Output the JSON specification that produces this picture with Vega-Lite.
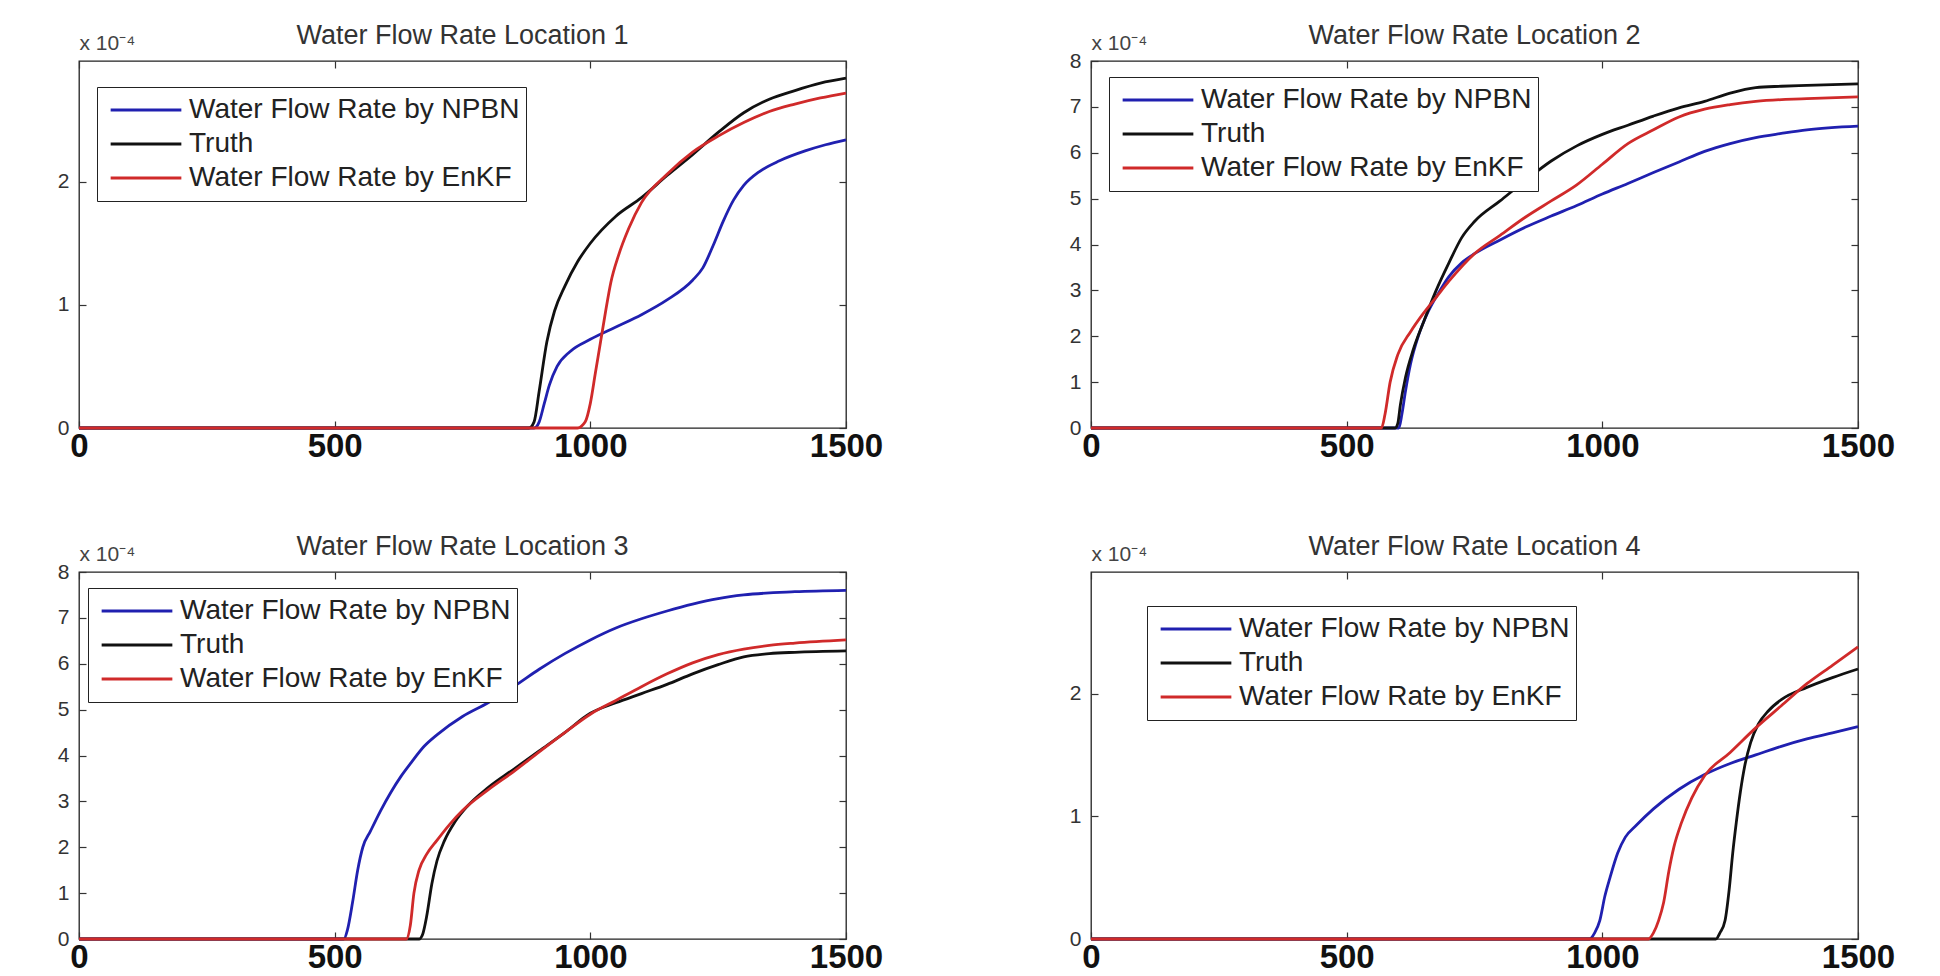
{
  "$schema": "https://vega.github.io/schema/vega-lite/v6.json",
  "background": "white",
  "padding": {"left": 56, "top": 21, "right": 0, "bottom": 0},
  "datasets": {
    "flow": [
      {"loc":1,"s":"Water Flow Rate by NPBN","t":0,"q":0},{"loc":1,"s":"Water Flow Rate by NPBN","t":890,"q":0},{"loc":1,"s":"Water Flow Rate by NPBN","t":900,"q":0.05},{"loc":1,"s":"Water Flow Rate by NPBN","t":910,"q":0.2},{"loc":1,"s":"Water Flow Rate by NPBN","t":920,"q":0.35},{"loc":1,"s":"Water Flow Rate by NPBN","t":935,"q":0.5},{"loc":1,"s":"Water Flow Rate by NPBN","t":960,"q":0.62},{"loc":1,"s":"Water Flow Rate by NPBN","t":1000,"q":0.72},{"loc":1,"s":"Water Flow Rate by NPBN","t":1050,"q":0.82},{"loc":1,"s":"Water Flow Rate by NPBN","t":1100,"q":0.92},{"loc":1,"s":"Water Flow Rate by NPBN","t":1150,"q":1.04},{"loc":1,"s":"Water Flow Rate by NPBN","t":1200,"q":1.2},{"loc":1,"s":"Water Flow Rate by NPBN","t":1220,"q":1.3},{"loc":1,"s":"Water Flow Rate by NPBN","t":1240,"q":1.48},{"loc":1,"s":"Water Flow Rate by NPBN","t":1260,"q":1.68},{"loc":1,"s":"Water Flow Rate by NPBN","t":1280,"q":1.85},{"loc":1,"s":"Water Flow Rate by NPBN","t":1300,"q":1.97},{"loc":1,"s":"Water Flow Rate by NPBN","t":1330,"q":2.08},{"loc":1,"s":"Water Flow Rate by NPBN","t":1370,"q":2.17},{"loc":1,"s":"Water Flow Rate by NPBN","t":1420,"q":2.25},{"loc":1,"s":"Water Flow Rate by NPBN","t":1460,"q":2.3},{"loc":1,"s":"Water Flow Rate by NPBN","t":1500,"q":2.34},
      {"loc":1,"s":"Truth","t":0,"q":0},{"loc":1,"s":"Truth","t":880,"q":0},{"loc":1,"s":"Truth","t":890,"q":0.05},{"loc":1,"s":"Truth","t":900,"q":0.3},{"loc":1,"s":"Truth","t":915,"q":0.7},{"loc":1,"s":"Truth","t":930,"q":0.95},{"loc":1,"s":"Truth","t":950,"q":1.15},{"loc":1,"s":"Truth","t":975,"q":1.35},{"loc":1,"s":"Truth","t":1000,"q":1.5},{"loc":1,"s":"Truth","t":1050,"q":1.72},{"loc":1,"s":"Truth","t":1100,"q":1.87},{"loc":1,"s":"Truth","t":1150,"q":2.05},{"loc":1,"s":"Truth","t":1200,"q":2.22},{"loc":1,"s":"Truth","t":1250,"q":2.4},{"loc":1,"s":"Truth","t":1300,"q":2.56},{"loc":1,"s":"Truth","t":1350,"q":2.67},{"loc":1,"s":"Truth","t":1400,"q":2.74},{"loc":1,"s":"Truth","t":1450,"q":2.8},{"loc":1,"s":"Truth","t":1500,"q":2.84},
      {"loc":1,"s":"Water Flow Rate by EnKF","t":0,"q":0},{"loc":1,"s":"Water Flow Rate by EnKF","t":975,"q":0},{"loc":1,"s":"Water Flow Rate by EnKF","t":990,"q":0.05},{"loc":1,"s":"Water Flow Rate by EnKF","t":1000,"q":0.2},{"loc":1,"s":"Water Flow Rate by EnKF","t":1010,"q":0.45},{"loc":1,"s":"Water Flow Rate by EnKF","t":1020,"q":0.7},{"loc":1,"s":"Water Flow Rate by EnKF","t":1030,"q":0.95},{"loc":1,"s":"Water Flow Rate by EnKF","t":1040,"q":1.18},{"loc":1,"s":"Water Flow Rate by EnKF","t":1055,"q":1.4},{"loc":1,"s":"Water Flow Rate by EnKF","t":1075,"q":1.62},{"loc":1,"s":"Water Flow Rate by EnKF","t":1100,"q":1.83},{"loc":1,"s":"Water Flow Rate by EnKF","t":1150,"q":2.06},{"loc":1,"s":"Water Flow Rate by EnKF","t":1200,"q":2.24},{"loc":1,"s":"Water Flow Rate by EnKF","t":1250,"q":2.37},{"loc":1,"s":"Water Flow Rate by EnKF","t":1300,"q":2.48},{"loc":1,"s":"Water Flow Rate by EnKF","t":1350,"q":2.57},{"loc":1,"s":"Water Flow Rate by EnKF","t":1400,"q":2.63},{"loc":1,"s":"Water Flow Rate by EnKF","t":1450,"q":2.68},{"loc":1,"s":"Water Flow Rate by EnKF","t":1500,"q":2.72},

      {"loc":2,"s":"Water Flow Rate by NPBN","t":0,"q":0},{"loc":2,"s":"Water Flow Rate by NPBN","t":602,"q":0},{"loc":2,"s":"Water Flow Rate by NPBN","t":608,"q":0.3},{"loc":2,"s":"Water Flow Rate by NPBN","t":615,"q":0.8},{"loc":2,"s":"Water Flow Rate by NPBN","t":625,"q":1.4},{"loc":2,"s":"Water Flow Rate by NPBN","t":640,"q":2.0},{"loc":2,"s":"Water Flow Rate by NPBN","t":660,"q":2.55},{"loc":2,"s":"Water Flow Rate by NPBN","t":680,"q":2.95},{"loc":2,"s":"Water Flow Rate by NPBN","t":700,"q":3.3},{"loc":2,"s":"Water Flow Rate by NPBN","t":725,"q":3.6},{"loc":2,"s":"Water Flow Rate by NPBN","t":750,"q":3.8},{"loc":2,"s":"Water Flow Rate by NPBN","t":800,"q":4.1},{"loc":2,"s":"Water Flow Rate by NPBN","t":850,"q":4.38},{"loc":2,"s":"Water Flow Rate by NPBN","t":900,"q":4.62},{"loc":2,"s":"Water Flow Rate by NPBN","t":950,"q":4.85},{"loc":2,"s":"Water Flow Rate by NPBN","t":1000,"q":5.1},{"loc":2,"s":"Water Flow Rate by NPBN","t":1050,"q":5.33},{"loc":2,"s":"Water Flow Rate by NPBN","t":1100,"q":5.57},{"loc":2,"s":"Water Flow Rate by NPBN","t":1150,"q":5.8},{"loc":2,"s":"Water Flow Rate by NPBN","t":1200,"q":6.03},{"loc":2,"s":"Water Flow Rate by NPBN","t":1250,"q":6.2},{"loc":2,"s":"Water Flow Rate by NPBN","t":1300,"q":6.33},{"loc":2,"s":"Water Flow Rate by NPBN","t":1350,"q":6.42},{"loc":2,"s":"Water Flow Rate by NPBN","t":1400,"q":6.5},{"loc":2,"s":"Water Flow Rate by NPBN","t":1500,"q":6.58},
      {"loc":2,"s":"Truth","t":0,"q":0},{"loc":2,"s":"Truth","t":595,"q":0},{"loc":2,"s":"Truth","t":600,"q":0.1},{"loc":2,"s":"Truth","t":605,"q":0.5},{"loc":2,"s":"Truth","t":615,"q":1.1},{"loc":2,"s":"Truth","t":630,"q":1.7},{"loc":2,"s":"Truth","t":650,"q":2.3},{"loc":2,"s":"Truth","t":675,"q":3.0},{"loc":2,"s":"Truth","t":700,"q":3.6},{"loc":2,"s":"Truth","t":725,"q":4.15},{"loc":2,"s":"Truth","t":750,"q":4.5},{"loc":2,"s":"Truth","t":800,"q":4.95},{"loc":2,"s":"Truth","t":850,"q":5.4},{"loc":2,"s":"Truth","t":900,"q":5.82},{"loc":2,"s":"Truth","t":950,"q":6.15},{"loc":2,"s":"Truth","t":1000,"q":6.4},{"loc":2,"s":"Truth","t":1050,"q":6.6},{"loc":2,"s":"Truth","t":1100,"q":6.8},{"loc":2,"s":"Truth","t":1150,"q":6.98},{"loc":2,"s":"Truth","t":1200,"q":7.12},{"loc":2,"s":"Truth","t":1250,"q":7.3},{"loc":2,"s":"Truth","t":1300,"q":7.42},{"loc":2,"s":"Truth","t":1350,"q":7.45},{"loc":2,"s":"Truth","t":1400,"q":7.47},{"loc":2,"s":"Truth","t":1500,"q":7.5},
      {"loc":2,"s":"Water Flow Rate by EnKF","t":0,"q":0},{"loc":2,"s":"Water Flow Rate by EnKF","t":568,"q":0},{"loc":2,"s":"Water Flow Rate by EnKF","t":575,"q":0.3},{"loc":2,"s":"Water Flow Rate by EnKF","t":585,"q":1.0},{"loc":2,"s":"Water Flow Rate by EnKF","t":600,"q":1.6},{"loc":2,"s":"Water Flow Rate by EnKF","t":625,"q":2.1},{"loc":2,"s":"Water Flow Rate by EnKF","t":650,"q":2.5},{"loc":2,"s":"Water Flow Rate by EnKF","t":675,"q":2.85},{"loc":2,"s":"Water Flow Rate by EnKF","t":700,"q":3.2},{"loc":2,"s":"Water Flow Rate by EnKF","t":750,"q":3.8},{"loc":2,"s":"Water Flow Rate by EnKF","t":800,"q":4.2},{"loc":2,"s":"Water Flow Rate by EnKF","t":850,"q":4.6},{"loc":2,"s":"Water Flow Rate by EnKF","t":900,"q":4.95},{"loc":2,"s":"Water Flow Rate by EnKF","t":950,"q":5.3},{"loc":2,"s":"Water Flow Rate by EnKF","t":1000,"q":5.75},{"loc":2,"s":"Water Flow Rate by EnKF","t":1050,"q":6.2},{"loc":2,"s":"Water Flow Rate by EnKF","t":1100,"q":6.5},{"loc":2,"s":"Water Flow Rate by EnKF","t":1150,"q":6.78},{"loc":2,"s":"Water Flow Rate by EnKF","t":1200,"q":6.95},{"loc":2,"s":"Water Flow Rate by EnKF","t":1250,"q":7.05},{"loc":2,"s":"Water Flow Rate by EnKF","t":1300,"q":7.12},{"loc":2,"s":"Water Flow Rate by EnKF","t":1400,"q":7.18},{"loc":2,"s":"Water Flow Rate by EnKF","t":1500,"q":7.22},

      {"loc":3,"s":"Water Flow Rate by NPBN","t":0,"q":0},{"loc":3,"s":"Water Flow Rate by NPBN","t":518,"q":0},{"loc":3,"s":"Water Flow Rate by NPBN","t":525,"q":0.2},{"loc":3,"s":"Water Flow Rate by NPBN","t":535,"q":0.8},{"loc":3,"s":"Water Flow Rate by NPBN","t":545,"q":1.5},{"loc":3,"s":"Water Flow Rate by NPBN","t":555,"q":2.0},{"loc":3,"s":"Water Flow Rate by NPBN","t":570,"q":2.35},{"loc":3,"s":"Water Flow Rate by NPBN","t":590,"q":2.8},{"loc":3,"s":"Water Flow Rate by NPBN","t":610,"q":3.2},{"loc":3,"s":"Water Flow Rate by NPBN","t":630,"q":3.55},{"loc":3,"s":"Water Flow Rate by NPBN","t":650,"q":3.85},{"loc":3,"s":"Water Flow Rate by NPBN","t":675,"q":4.2},{"loc":3,"s":"Water Flow Rate by NPBN","t":700,"q":4.45},{"loc":3,"s":"Water Flow Rate by NPBN","t":750,"q":4.85},{"loc":3,"s":"Water Flow Rate by NPBN","t":800,"q":5.15},{"loc":3,"s":"Water Flow Rate by NPBN","t":850,"q":5.5},{"loc":3,"s":"Water Flow Rate by NPBN","t":900,"q":5.88},{"loc":3,"s":"Water Flow Rate by NPBN","t":950,"q":6.22},{"loc":3,"s":"Water Flow Rate by NPBN","t":1000,"q":6.52},{"loc":3,"s":"Water Flow Rate by NPBN","t":1050,"q":6.78},{"loc":3,"s":"Water Flow Rate by NPBN","t":1100,"q":6.98},{"loc":3,"s":"Water Flow Rate by NPBN","t":1150,"q":7.15},{"loc":3,"s":"Water Flow Rate by NPBN","t":1200,"q":7.3},{"loc":3,"s":"Water Flow Rate by NPBN","t":1250,"q":7.42},{"loc":3,"s":"Water Flow Rate by NPBN","t":1300,"q":7.5},{"loc":3,"s":"Water Flow Rate by NPBN","t":1400,"q":7.57},{"loc":3,"s":"Water Flow Rate by NPBN","t":1500,"q":7.6},
      {"loc":3,"s":"Truth","t":0,"q":0},{"loc":3,"s":"Truth","t":665,"q":0},{"loc":3,"s":"Truth","t":672,"q":0.1},{"loc":3,"s":"Truth","t":680,"q":0.5},{"loc":3,"s":"Truth","t":690,"q":1.2},{"loc":3,"s":"Truth","t":700,"q":1.7},{"loc":3,"s":"Truth","t":715,"q":2.15},{"loc":3,"s":"Truth","t":735,"q":2.55},{"loc":3,"s":"Truth","t":760,"q":2.9},{"loc":3,"s":"Truth","t":800,"q":3.3},{"loc":3,"s":"Truth","t":850,"q":3.7},{"loc":3,"s":"Truth","t":900,"q":4.1},{"loc":3,"s":"Truth","t":950,"q":4.5},{"loc":3,"s":"Truth","t":1000,"q":4.92},{"loc":3,"s":"Truth","t":1050,"q":5.15},{"loc":3,"s":"Truth","t":1100,"q":5.35},{"loc":3,"s":"Truth","t":1150,"q":5.55},{"loc":3,"s":"Truth","t":1200,"q":5.78},{"loc":3,"s":"Truth","t":1250,"q":5.98},{"loc":3,"s":"Truth","t":1300,"q":6.15},{"loc":3,"s":"Truth","t":1350,"q":6.22},{"loc":3,"s":"Truth","t":1400,"q":6.25},{"loc":3,"s":"Truth","t":1500,"q":6.28},
      {"loc":3,"s":"Water Flow Rate by EnKF","t":0,"q":0},{"loc":3,"s":"Water Flow Rate by EnKF","t":640,"q":0},{"loc":3,"s":"Water Flow Rate by EnKF","t":648,"q":0.3},{"loc":3,"s":"Water Flow Rate by EnKF","t":655,"q":1.0},{"loc":3,"s":"Water Flow Rate by EnKF","t":665,"q":1.5},{"loc":3,"s":"Water Flow Rate by EnKF","t":680,"q":1.85},{"loc":3,"s":"Water Flow Rate by EnKF","t":700,"q":2.15},{"loc":3,"s":"Water Flow Rate by EnKF","t":725,"q":2.5},{"loc":3,"s":"Water Flow Rate by EnKF","t":750,"q":2.8},{"loc":3,"s":"Water Flow Rate by EnKF","t":800,"q":3.25},{"loc":3,"s":"Water Flow Rate by EnKF","t":850,"q":3.65},{"loc":3,"s":"Water Flow Rate by EnKF","t":900,"q":4.08},{"loc":3,"s":"Water Flow Rate by EnKF","t":950,"q":4.5},{"loc":3,"s":"Water Flow Rate by EnKF","t":1000,"q":4.9},{"loc":3,"s":"Water Flow Rate by EnKF","t":1050,"q":5.2},{"loc":3,"s":"Water Flow Rate by EnKF","t":1100,"q":5.5},{"loc":3,"s":"Water Flow Rate by EnKF","t":1150,"q":5.78},{"loc":3,"s":"Water Flow Rate by EnKF","t":1200,"q":6.02},{"loc":3,"s":"Water Flow Rate by EnKF","t":1250,"q":6.2},{"loc":3,"s":"Water Flow Rate by EnKF","t":1300,"q":6.32},{"loc":3,"s":"Water Flow Rate by EnKF","t":1350,"q":6.4},{"loc":3,"s":"Water Flow Rate by EnKF","t":1400,"q":6.45},{"loc":3,"s":"Water Flow Rate by EnKF","t":1500,"q":6.52},

      {"loc":4,"s":"Water Flow Rate by NPBN","t":0,"q":0},{"loc":4,"s":"Water Flow Rate by NPBN","t":975,"q":0},{"loc":4,"s":"Water Flow Rate by NPBN","t":985,"q":0.05},{"loc":4,"s":"Water Flow Rate by NPBN","t":995,"q":0.15},{"loc":4,"s":"Water Flow Rate by NPBN","t":1005,"q":0.35},{"loc":4,"s":"Water Flow Rate by NPBN","t":1015,"q":0.5},{"loc":4,"s":"Water Flow Rate by NPBN","t":1030,"q":0.7},{"loc":4,"s":"Water Flow Rate by NPBN","t":1045,"q":0.83},{"loc":4,"s":"Water Flow Rate by NPBN","t":1065,"q":0.92},{"loc":4,"s":"Water Flow Rate by NPBN","t":1100,"q":1.06},{"loc":4,"s":"Water Flow Rate by NPBN","t":1150,"q":1.22},{"loc":4,"s":"Water Flow Rate by NPBN","t":1200,"q":1.34},{"loc":4,"s":"Water Flow Rate by NPBN","t":1250,"q":1.43},{"loc":4,"s":"Water Flow Rate by NPBN","t":1300,"q":1.5},{"loc":4,"s":"Water Flow Rate by NPBN","t":1350,"q":1.57},{"loc":4,"s":"Water Flow Rate by NPBN","t":1400,"q":1.63},{"loc":4,"s":"Water Flow Rate by NPBN","t":1450,"q":1.68},{"loc":4,"s":"Water Flow Rate by NPBN","t":1500,"q":1.73},
      {"loc":4,"s":"Truth","t":0,"q":0},{"loc":4,"s":"Truth","t":1222,"q":0},{"loc":4,"s":"Truth","t":1230,"q":0.05},{"loc":4,"s":"Truth","t":1240,"q":0.15},{"loc":4,"s":"Truth","t":1248,"q":0.4},{"loc":4,"s":"Truth","t":1255,"q":0.7},{"loc":4,"s":"Truth","t":1262,"q":0.95},{"loc":4,"s":"Truth","t":1270,"q":1.2},{"loc":4,"s":"Truth","t":1278,"q":1.4},{"loc":4,"s":"Truth","t":1290,"q":1.6},{"loc":4,"s":"Truth","t":1305,"q":1.75},{"loc":4,"s":"Truth","t":1325,"q":1.86},{"loc":4,"s":"Truth","t":1350,"q":1.95},{"loc":4,"s":"Truth","t":1400,"q":2.05},{"loc":4,"s":"Truth","t":1450,"q":2.13},{"loc":4,"s":"Truth","t":1500,"q":2.2},
      {"loc":4,"s":"Water Flow Rate by EnKF","t":0,"q":0},{"loc":4,"s":"Water Flow Rate by EnKF","t":1090,"q":0},{"loc":4,"s":"Water Flow Rate by EnKF","t":1100,"q":0.05},{"loc":4,"s":"Water Flow Rate by EnKF","t":1110,"q":0.15},{"loc":4,"s":"Water Flow Rate by EnKF","t":1120,"q":0.3},{"loc":4,"s":"Water Flow Rate by EnKF","t":1130,"q":0.55},{"loc":4,"s":"Water Flow Rate by EnKF","t":1140,"q":0.75},{"loc":4,"s":"Water Flow Rate by EnKF","t":1155,"q":0.95},{"loc":4,"s":"Water Flow Rate by EnKF","t":1175,"q":1.15},{"loc":4,"s":"Water Flow Rate by EnKF","t":1200,"q":1.33},{"loc":4,"s":"Water Flow Rate by EnKF","t":1250,"q":1.52},{"loc":4,"s":"Water Flow Rate by EnKF","t":1300,"q":1.72},{"loc":4,"s":"Water Flow Rate by EnKF","t":1350,"q":1.9},{"loc":4,"s":"Water Flow Rate by EnKF","t":1400,"q":2.08},{"loc":4,"s":"Water Flow Rate by EnKF","t":1450,"q":2.23},{"loc":4,"s":"Water Flow Rate by EnKF","t":1500,"q":2.38}
    ]
  },
  "data": {"name": "flow"},
  "columns": 2,
  "spacing": {"row": 144, "column": 245},
  "bounds": "flush",
  "resolve": {"scale": {"x": "independent", "y": "independent", "color": "independent"}, "legend": {"color": "independent"}},
  "concat": [
    {
      "width": 767, "height": 367,
      "title": "Water Flow Rate Location 1",
      "transform": [{"filter": "datum.loc == 1"}],
      "resolve": {"axis": {"x": "independent", "y": "independent"}},
      "layer": [
        {
          "mark": {"type": "line", "strokeWidth": 2.8, "interpolate": "monotone"},
          "encoding": {
            "x": {"field": "t", "type": "quantitative", "scale": {"domain": [0, 1500], "nice": false}, "axis": {"orient": "bottom", "values": [0, 500, 1000, 1500], "format": "d", "title": null, "labelFontSize": 33, "labelFontWeight": "bold", "labelColor": "#111", "labelPadding": 9, "labelFlush": false, "labelOverlap": false}},
            "y": {"field": "q", "type": "quantitative", "scale": {"domain": [0, 2.98], "nice": false}, "axis": {"orient": "left", "values": [0, 1, 2], "title": "x 10⁻⁴", "titleAngle": 0, "titleAlign": "left", "titleBaseline": "alphabetic", "titleX": 0, "titleY": -12, "titleFontSize": 21, "titleFontWeight": "normal", "titleColor": "#444", "labelFontSize": 21, "labelColor": "#333", "labelPadding": 17}},
            "color": {"field": "s", "type": "nominal", "scale": {"domain": ["Water Flow Rate by NPBN", "Truth", "Water Flow Rate by EnKF"], "range": ["#2020b0", "#111111", "#d02a2a"]}, "legend": {"title": null, "orient": "none", "legendX": 18, "legendY": 26}}
          }
        },
        {
          "mark": {"type": "line", "opacity": 0},
          "encoding": {
            "x": {"field": "t", "type": "quantitative", "axis": {"orient": "top", "values": [0, 500, 1000, 1500], "labels": false, "title": null}},
            "y": {"field": "q", "type": "quantitative", "axis": {"orient": "right", "values": [0, 1, 2], "labels": false, "title": null}},
            "detail": {"field": "s"}
          }
        }
      ]
    },
    {
      "width": 767, "height": 367,
      "title": "Water Flow Rate Location 2",
      "transform": [{"filter": "datum.loc == 2"}],
      "resolve": {"axis": {"x": "independent", "y": "independent"}},
      "layer": [
        {
          "mark": {"type": "line", "strokeWidth": 2.8, "interpolate": "monotone"},
          "encoding": {
            "x": {"field": "t", "type": "quantitative", "scale": {"domain": [0, 1500], "nice": false}, "axis": {"orient": "bottom", "values": [0, 500, 1000, 1500], "format": "d", "title": null, "labelFontSize": 33, "labelFontWeight": "bold", "labelColor": "#111", "labelPadding": 9, "labelFlush": false, "labelOverlap": false}},
            "y": {"field": "q", "type": "quantitative", "scale": {"domain": [0, 8], "nice": false}, "axis": {"orient": "left", "values": [0, 1, 2, 3, 4, 5, 6, 7, 8], "title": "x 10⁻⁴", "titleAngle": 0, "titleAlign": "left", "titleBaseline": "alphabetic", "titleX": 0, "titleY": -12, "titleFontSize": 21, "titleFontWeight": "normal", "titleColor": "#444", "labelFontSize": 21, "labelColor": "#333", "labelPadding": 17}},
            "color": {"field": "s", "type": "nominal", "scale": {"domain": ["Water Flow Rate by NPBN", "Truth", "Water Flow Rate by EnKF"], "range": ["#2020b0", "#111111", "#d02a2a"]}, "legend": {"title": null, "orient": "none", "legendX": 18, "legendY": 16}}
          }
        },
        {
          "mark": {"type": "line", "opacity": 0},
          "encoding": {
            "x": {"field": "t", "type": "quantitative", "axis": {"orient": "top", "values": [0, 500, 1000, 1500], "labels": false, "title": null}},
            "y": {"field": "q", "type": "quantitative", "axis": {"orient": "right", "values": [0, 1, 2, 3, 4, 5, 6, 7, 8], "labels": false, "title": null}},
            "detail": {"field": "s"}
          }
        }
      ]
    },
    {
      "width": 767, "height": 367,
      "title": "Water Flow Rate Location 3",
      "transform": [{"filter": "datum.loc == 3"}],
      "resolve": {"axis": {"x": "independent", "y": "independent"}},
      "layer": [
        {
          "mark": {"type": "line", "strokeWidth": 2.8, "interpolate": "monotone"},
          "encoding": {
            "x": {"field": "t", "type": "quantitative", "scale": {"domain": [0, 1500], "nice": false}, "axis": {"orient": "bottom", "values": [0, 500, 1000, 1500], "format": "d", "title": null, "labelFontSize": 33, "labelFontWeight": "bold", "labelColor": "#111", "labelPadding": 9, "labelFlush": false, "labelOverlap": false}},
            "y": {"field": "q", "type": "quantitative", "scale": {"domain": [0, 8], "nice": false}, "axis": {"orient": "left", "values": [0, 1, 2, 3, 4, 5, 6, 7, 8], "title": "x 10⁻⁴", "titleAngle": 0, "titleAlign": "left", "titleBaseline": "alphabetic", "titleX": 0, "titleY": -12, "titleFontSize": 21, "titleFontWeight": "normal", "titleColor": "#444", "labelFontSize": 21, "labelColor": "#333", "labelPadding": 17}},
            "color": {"field": "s", "type": "nominal", "scale": {"domain": ["Water Flow Rate by NPBN", "Truth", "Water Flow Rate by EnKF"], "range": ["#2020b0", "#111111", "#d02a2a"]}, "legend": {"title": null, "orient": "none", "legendX": 9, "legendY": 16}}
          }
        },
        {
          "mark": {"type": "line", "opacity": 0},
          "encoding": {
            "x": {"field": "t", "type": "quantitative", "axis": {"orient": "top", "values": [0, 500, 1000, 1500], "labels": false, "title": null}},
            "y": {"field": "q", "type": "quantitative", "axis": {"orient": "right", "values": [0, 1, 2, 3, 4, 5, 6, 7, 8], "labels": false, "title": null}},
            "detail": {"field": "s"}
          }
        }
      ]
    },
    {
      "width": 767, "height": 367,
      "title": "Water Flow Rate Location 4",
      "transform": [{"filter": "datum.loc == 4"}],
      "resolve": {"axis": {"x": "independent", "y": "independent"}},
      "layer": [
        {
          "mark": {"type": "line", "strokeWidth": 2.8, "interpolate": "monotone"},
          "encoding": {
            "x": {"field": "t", "type": "quantitative", "scale": {"domain": [0, 1500], "nice": false}, "axis": {"orient": "bottom", "values": [0, 500, 1000, 1500], "format": "d", "title": null, "labelFontSize": 33, "labelFontWeight": "bold", "labelColor": "#111", "labelPadding": 9, "labelFlush": false, "labelOverlap": false}},
            "y": {"field": "q", "type": "quantitative", "scale": {"domain": [0, 2.99], "nice": false}, "axis": {"orient": "left", "values": [0, 1, 2], "title": "x 10⁻⁴", "titleAngle": 0, "titleAlign": "left", "titleBaseline": "alphabetic", "titleX": 0, "titleY": -12, "titleFontSize": 21, "titleFontWeight": "normal", "titleColor": "#444", "labelFontSize": 21, "labelColor": "#333", "labelPadding": 17}},
            "color": {"field": "s", "type": "nominal", "scale": {"domain": ["Water Flow Rate by NPBN", "Truth", "Water Flow Rate by EnKF"], "range": ["#2020b0", "#111111", "#d02a2a"]}, "legend": {"title": null, "orient": "none", "legendX": 56, "legendY": 34}}
          }
        },
        {
          "mark": {"type": "line", "opacity": 0},
          "encoding": {
            "x": {"field": "t", "type": "quantitative", "axis": {"orient": "top", "values": [0, 500, 1000, 1500], "labels": false, "title": null}},
            "y": {"field": "q", "type": "quantitative", "axis": {"orient": "right", "values": [0, 1, 2], "labels": false, "title": null}},
            "detail": {"field": "s"}
          }
        }
      ]
    }
  ],
  "config": {
    "font": "Liberation Sans",
    "view": {"stroke": "#222", "strokeWidth": 1.3},
    "axis": {"grid": false, "domain": false, "tickColor": "#333", "tickWidth": 1.2, "tickSize": -7},
    "title": {"fontSize": 27, "fontWeight": "normal", "color": "#333", "font": "Liberation Sans", "offset": -18, "baseline": "alphabetic"},
    "legend": {"strokeColor": "#222", "fillColor": "white", "padding": 6, "symbolType": "stroke", "symbolSize": 5000, "symbolStrokeWidth": 2.8, "clipHeight": 34, "labelFontSize": 28, "labelColor": "#222", "labelFont": "Liberation Sans", "labelOffset": 6, "labelLimit": 0, "rowPadding": 0, "symbolOffset": 6}
  }
}
